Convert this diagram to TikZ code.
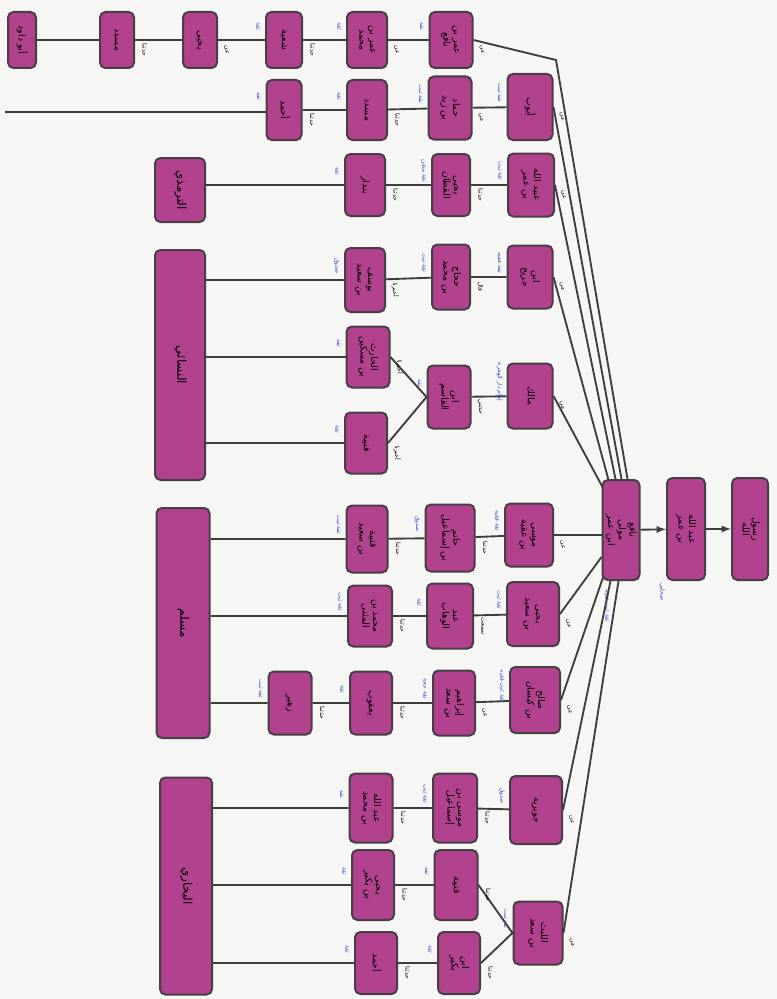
\documentclass[tikz,border=0pt]{standalone}
\usepackage{fontspec}
\usepackage{graphicx}
\usetikzlibrary{arrows,calc}
\newfontfamily\arabicfont[Script=Arabic]{DejaVu Sans}
\TeXXeTstate=1
\newcommand{\rl}[1]{\beginR #1\endR}
\newcommand{\ar}[1]{\rotatebox{-90}{\arabicfont\begin{tabular}{@{}c@{}}#1\end{tabular}}}
\definecolor{boxfill}{RGB}{178,66,142}
\definecolor{boxline}{RGB}{72,62,72}
\definecolor{linkc}{RGB}{62,62,62}
\definecolor{gradec}{RGB}{62,82,200}
\definecolor{paper}{RGB}{246,247,245}
\tikzset{
  box/.style 2 args={draw=boxline, fill=boxfill, line width=1.5pt, rounded corners=4pt,
    minimum width=#1*0.75pt, minimum height=#2*0.75pt, inner sep=1pt,
    font=\fontsize{7}{8}\selectfont},
  big/.style={font=\fontsize{9}{10}\selectfont},
  link/.style={draw=linkc, line width=1.4pt},
  grade/.style={text=gradec, inner sep=0pt, font=\fontsize{4.5}{5}\selectfont},
  mode/.style={text=black, inner sep=0pt, font=\fontsize{4.5}{5}\selectfont},
}
\begin{document}
\begin{tikzpicture}[x=0.75pt, y=-0.75pt]
  \fill[paper] (0,0) rectangle (777,999);
  % prophet, companion, hub
  \node[box={36}{102}] (nabi) at (750,529) {\ar{\rl{رسول}\\\rl{الله}}};
  \node[box={38}{102}] (sahabi) at (686,529) {\ar{\rl{عبد الله}\\\rl{بن عمر}}};
  \node[box={37}{100}] (hub) at (621,530) {\ar{\rl{نافع}\\\rl{مولى}\\\rl{ابن عمر}}};
  \draw[link,-latex] (hub) -- (sahabi);
  \draw[link,-latex] (sahabi) -- (nabi);
  \node[grade] at (662,592) {\ar{\rl{صحابي}}};
  \node[grade] at (607,606) {\ar{\rl{ثقة ثبت فقيه}}};

  % top row (cut at the edge)
  \node[box={28}{56}] (t1) at (22,40) {\ar{\rl{أبو داود}}};
  \node[box={34}{56}] (t2) at (117,40) {\ar{\rl{مسدد}}};
  \node[box={34}{56}] (t3) at (200,40) {\ar{\rl{يحيى}}};
  \node[box={36}{56}] (t4) at (284,40) {\ar{\rl{شعبة}}};
  \node[box={40}{56}] (t5) at (367,40) {\ar{\rl{عمر بن}\\\rl{محمد}}};
  \node[box={43}{56}] (t6) at (451,40) {\ar{\rl{عمر بن}\\\rl{نافع}}};
  \draw[link] (t1) -- (t2) -- (t3) -- (t4) -- (t5) -- (t6);
  \coordinate (tbend) at (556,60);

  % students of the hub
  \node[box={45}{66}] (c2a) at (530,107) {\ar{\rl{أيوب}}};
  \node[box={46}{63}] (c2b) at (531,185) {\ar{\rl{عبيد الله}\\\rl{بن عمر}}};
  \node[box={45}{63}] (c2c) at (530,277) {\ar{\rl{ابن}\\\rl{جريج}}};
  \node[box={45}{65}] (c2d) at (530,396) {\ar{\rl{مالك}}};
  \node[box={48}{63}] (c2e) at (529,535) {\ar{\rl{موسى}\\\rl{بن عقبة}}};
  \node[box={52}{64}] (c2f) at (533,614) {\ar{\rl{يحيى}\\\rl{بن سعيد}}};
  \node[box={50}{66}] (c2g) at (535,700) {\ar{\rl{صالح}\\\rl{بن كيسان}}};
  \node[box={52}{68}] (c2h) at (536,810) {\ar{\rl{جويرية}}};
  \node[box={49}{63}] (c2i) at (538,933) {\ar{\rl{الليث}\\\rl{بن سعد}}};

  % next layer
  \node[box={43}{63}] (r2c3) at (450,108) {\ar{\rl{حماد}\\\rl{بن زيد}}};
  \node[box={38}{62}] (r3c3) at (451,185) {\ar{\rl{يحيى}\\\rl{القطان}}};
  \node[box={38}{65}] (r4c3) at (451,277) {\ar{\rl{حجاج}\\\rl{بن محمد}}};
  \node[box={43}{63}] (r5c3) at (449,397) {\ar{\rl{ابن}\\\rl{القاسم}}};
  \node[box={49}{67}] (r6c3) at (450,538) {\ar{\rl{حاتم}\\\rl{بن إسماعيل}}};
  \node[box={46}{65}] (r7c3) at (450,616) {\ar{\rl{عبد}\\\rl{الوهاب}}};
  \node[box={42}{65}] (r8c3) at (454,703) {\ar{\rl{إبراهيم}\\\rl{بن سعد}}};
  \node[box={44}{69}] (r9c3) at (455,808) {\ar{\rl{موسى بن}\\\rl{إسماعيل}}};
  \node[box={43}{70}] (r10a3) at (456,885) {\ar{\rl{قتيبة}}};
  \node[box={42}{62}] (r10b3) at (459,963) {\ar{\rl{ابن}\\\rl{بكير}}};

  \node[box={40}{60}] (r2c4) at (367,110) {\ar{\rl{مسدد}}};
  \node[box={40}{62}] (r3c4) at (365,185) {\ar{\rl{بندار}}};
  \node[box={40}{64}] (r4c4) at (365,280) {\ar{\rl{يوسف}\\\rl{بن سعيد}}};
  \node[box={43}{61}] (r5a4) at (368,357) {\ar{\rl{الحارث}\\\rl{بن مسكين}}};
  \node[box={42}{61}] (r5b4) at (366,443) {\ar{\rl{قتيبة}}};
  \node[box={41}{67}] (r6c4) at (367,539) {\ar{\rl{قتيبة}\\\rl{بن سعيد}}};
  \node[box={44}{61}] (r7c4) at (370,616) {\ar{\rl{محمد بن}\\\rl{المثنى}}};
  \node[box={42}{63}] (r8c4) at (371,703) {\ar{\rl{يعقوب}}};
  \node[box={43}{69}] (r9c4) at (371,808) {\ar{\rl{عبد الله}\\\rl{بن محمد}}};
  \node[box={42}{70}] (r10a4) at (373,885) {\ar{\rl{يحيى}\\\rl{بن بكير}}};
  \node[box={42}{62}] (r10b4) at (376,963) {\ar{\rl{أحمد}}};

  \node[box={35}{60}] (r2c5) at (284,110) {\ar{\rl{أحمد}}};
  \node[box={43}{63}] (r8c5) at (290,703) {\ar{\rl{زهير}}};

  % collectors
  \node[box={50}{64}, big] (tirmidhi) at (180,190) {\ar{\rl{الترمذي}}};
  \node[box={50}{230}, big] (nasai) at (180,365) {\ar{\rl{النسائي}}};
  \node[box={53}{230}, big] (muslim) at (183,623) {\ar{\rl{مسلم}}};
  \node[box={52}{217}, big] (bukhari) at (186,886) {\ar{\rl{البخاري}}};

  % chains
  \coordinate (r2o) at (5,112);
  \draw[link] (r2o) -- (r2c5.west |- r2o);
  \draw[link] (r2c5) -- (r2c4) -- (r2c3) -- (c2a);
  \draw[link] (tirmidhi.east |- r3c4) -- (r3c4) -- (r3c3) -- (c2b);
  \draw[link] (nasai.east |- r4c4) -- (r4c4) -- (r4c3) -- (c2c);
  \draw[link] (nasai.east |- r5a4) -- (r5a4);
  \draw[link] (nasai.east |- r5b4) -- (r5b4);
  \draw[link] (r5a4.east) -- (r5c3.west) -- (r5b4.east);
  \draw[link] (r5c3) -- (c2d);
  \draw[link] (muslim.east |- r6c4) -- (r6c4) -- (r6c3) -- (c2e);
  \draw[link] (muslim.east |- r7c4) -- (r7c4) -- (r7c3) -- (c2f);
  \draw[link] (muslim.east |- r8c5) -- (r8c5) -- (r8c4) -- (r8c3) -- (c2g);
  \draw[link] (bukhari.east |- r9c4) -- (r9c4) -- (r9c3) -- (c2h);
  \draw[link] (bukhari.east |- r10a4) -- (r10a4) -- (r10a3);
  \draw[link] (bukhari.east |- r10b4) -- (r10b4) -- (r10b3);
  \draw[link] (r10a3.east) -- (c2i.west) -- (r10b3.east);

  % fan into the hub
  \draw[link] (t6.east) -- (tbend) -- ($(hub.north west)+(26,0)$);
  \draw[link] (c2a.east) -- ($(hub.north west)+(20,0)$);
  \draw[link] (c2b.east) -- ($(hub.north west)+(14,0)$);
  \draw[link] (c2c.east) -- ($(hub.north west)+(7,1)$);
  \draw[link] (c2d.east) -- ($(hub.north west)+(1,8)$);
  \draw[link] (c2e.east) -- (hub.west |- c2e.east);
  \draw[link] (c2f.east) -- ($(hub.south west)+(0,-24)$);
  \draw[link] (c2g.east) -- ($(hub.south west)+(2,-5)$);
  \draw[link] (c2h.east) -- ($(hub.south west)+(9,0)$);
  \draw[link] (c2i.east) -- ($(hub.south west)+(17,0)$);

  % grades
  \foreach \n/\g in {c2a/ثقة ثبت, c2b/ثقة ثبت, c2c/ثقة فقيه, c2d/إمام دار الهجرة, c2e/ثقة فقيه,
      c2f/ثقة ثبت, c2g/ثقة ثبت فقيه, c2h/صدوق, c2i/ثقة ثبت,
      r2c3/ثقة ثبت, r3c3/ثقة متقن, r4c3/ثقة ثبت, r5c3/ثقة, r6c3/صدوق, r7c3/ثقة,
      r8c3/ثقة حجة, r9c3/ثقة ثبت, r10a3/ثقة, r10b3/ثقة,
      r2c4/ثقة, r3c4/ثقة, r4c4/صدوق, r5a4/ثقة, r5b4/ثقة, r6c4/ثقة ثبت,
      r7c4/ثقة ثبت, r8c4/ثقة, r9c4/ثقة, r10a4/ثقة, r10b4/ثقة,
      r2c5/ثقة, r8c5/ثقة ثبت, t6/ثقة, t5/ثقة, t4/ثقة}
    \node[grade] at ($(\n.west)+(-7,-14)$) {\ar{\rl{\g}}};
  % modes of receiving
  \foreach \n/\m in {c2a/عن, c2b/عن, c2c/عن, c2d/عن, c2e/عن, c2f/عن, c2g/عن, c2h/عن, c2i/عن,
      r2c3/عن, r3c3/حدثنا, r4c3/قال, r5c3/حدثني, r6c3/حدثنا, r7c3/سمعت, r8c3/عن, r9c3/حدثنا,
      r10a3/حدثنا, r10b3/حدثنا, r2c4/حدثنا, r3c4/حدثنا, r4c4/أخبرنا, r5a4/أخبرنا,
      r5b4/أخبرنا, r6c4/حدثنا, r7c4/حدثنا, r8c4/حدثنا, r9c4/حدثنا, r10a4/حدثنا,
      r10b4/حدثنا, r2c5/حدثنا, r8c5/حدثنا, t2/حدثنا, t3/عن, t4/حدثنا, t5/عن, t6/عن}
    \node[mode] at ($(\n.east)+(9,10)$) {\ar{\rl{\m}}};
\end{tikzpicture}
\end{document}
